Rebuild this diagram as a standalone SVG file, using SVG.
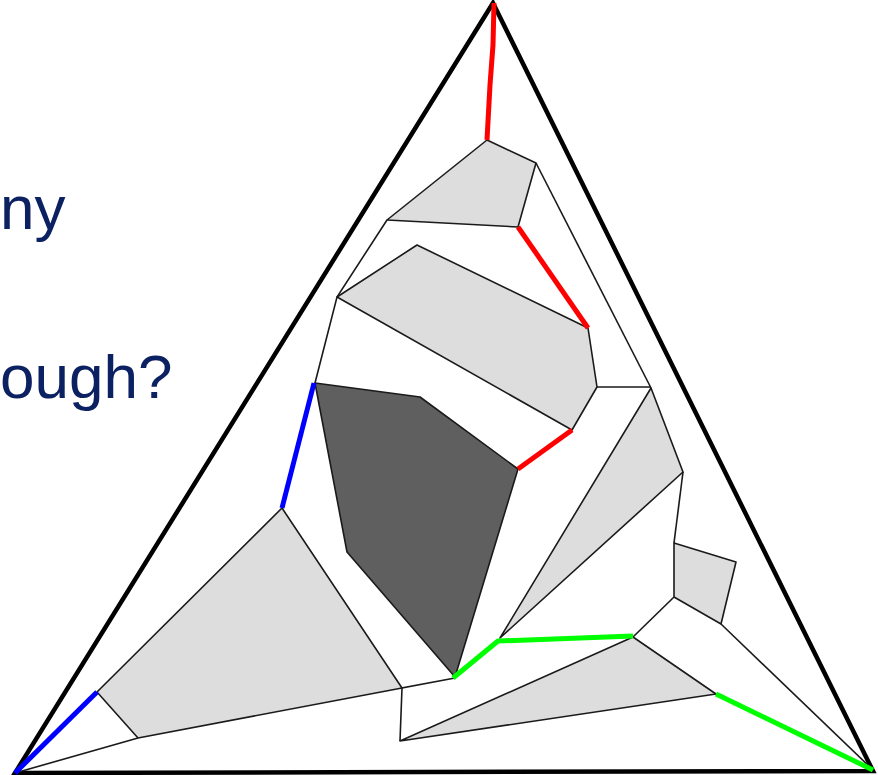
<svg xmlns="http://www.w3.org/2000/svg" width="878" height="775" viewBox="0 0 878 775">
<style>
.lt{fill:#dddddd;stroke:#1a1a1a;stroke-width:1.6;stroke-linejoin:round}
.dk{fill:#5f5f5f;stroke:#1a1a1a;stroke-width:1.6;stroke-linejoin:round}
.e{fill:none;stroke:#1a1a1a;stroke-width:1.6}
.r{fill:none;stroke:#ff0000;stroke-width:5;stroke-linejoin:round}
.b{fill:none;stroke:#0000ff;stroke-width:5;stroke-linejoin:round}
.g{fill:none;stroke:#00ff00;stroke-width:5;stroke-linejoin:round}
.t{font-family:"Liberation Sans",Arial,sans-serif;font-size:62px;fill:#0b2161}
</style>
<rect width="878" height="775" fill="#ffffff"/>
<g id="text">
<text class="t" x="0" y="229">ny</text>
<text class="t" x="0" y="398">ough?</text>
</g>
<g id="frame">
<polygon points="493,3 15,773 873,771" fill="none" stroke="#000" stroke-width="4.5" stroke-linejoin="miter"/>
</g>
<g id="poly-top"><polygon class="lt" points="487,140 536,163 518,227 387,220"/></g>
<g id="poly-mid"><polygon class="lt" points="337,297 417,245 588,328 597,387 572,430"/></g>
<g id="poly-dark"><polygon class="dk" points="315,383 420,397 518,469 455,677 347,552"/></g>
<g id="poly-wedge"><polygon class="lt" points="651,388 683,472 500,638"/></g>
<g id="poly-small"><polygon class="lt" points="674,543 736,562 721,624 674,597"/></g>
<g id="poly-lowright"><polygon class="lt" points="633,637 716,694 400,741"/></g>
<g id="poly-lowleft"><polygon class="lt" points="282,508 402,688 138,738 97,692"/></g>
<g id="connectors">
<polyline class="e" points="387,220 337,297 315,383"/>
<line class="e" x1="536" y1="163" x2="651" y2="388"/>
<line class="e" x1="597" y1="387" x2="651" y2="387"/>
<polyline class="e" points="683,472 674,543"/>
<line class="e" x1="674" y1="597" x2="633" y2="637"/>
<line class="e" x1="721" y1="624" x2="873" y2="770"/>
<polyline class="e" points="400,741 402,688 455,678"/>
<line class="e" x1="15" y1="773" x2="138" y2="738"/>
<polyline class="r" points="494,3 493,45 490,85 487,140"/>
<line class="r" x1="518" y1="227" x2="588" y2="328"/>
<line class="r" x1="572" y1="430" x2="518" y2="469"/>
<line class="b" x1="314" y1="383" x2="282" y2="508"/>
<line class="b" x1="97" y1="692" x2="15" y2="773"/>
<polyline class="g" points="453,678 498,641 633,636"/>
<line class="g" x1="716" y1="694" x2="873" y2="770"/>
</g>
</svg>
